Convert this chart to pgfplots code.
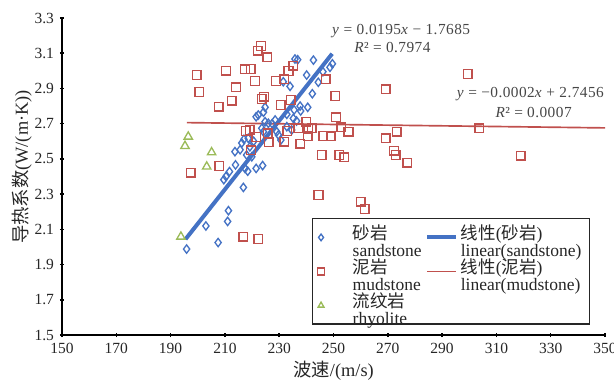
\documentclass[border=0pt]{standalone}
\usepackage{pgfplots}
\pgfplotsset{compat=1.18}
\usepackage{fontspec}
\setmainfont{Liberation Serif}
\newfontfamily\lat{Liberation Serif}
\newfontfamily\spaced[LetterSpace=3]{Liberation Serif}
\newfontfamily\cjk{Noto Sans CJK SC}
\newcommand\zh[1]{{\cjk #1}}
\newcommand\legtxt[2]{\renewcommand\arraystretch{0.97}\begin{tabular}{@{}l@{}}\lat#1\\\lat #2\end{tabular}}
\definecolor{sblue}{RGB}{68,114,196}
\definecolor{mred}{RGB}{192,80,77}
\definecolor{rgreen}{RGB}{155,187,89}
\definecolor{eqgray}{RGB}{70,70,70}
\begin{document}
\begin{tikzpicture}
\useasboundingbox (-37.2pt,-28.8pt) rectangle (331.2pt,201pt);
\begin{axis}[
  at={(0,0)}, anchor=south west,
  scale only axis, width=325.8pt, height=190.2pt,
  xmin=150, xmax=350, ymin=1.5, ymax=3.3,
  axis x line=bottom, axis y line=left,
  axis line style={-, line width=0.9pt, black},
  xtick={150,170,190,210,230,250,270,290,310,330,350},
  ytick={1.5,1.7,1.9,2.1,2.3,2.5,2.7,2.9,3.1,3.3},
  yticklabel style={/pgf/number format/.cd, fixed, fixed zerofill, precision=1},
  tick style={black, line width=0.9pt}, major tick length=2.6pt,
  tick label style={font=\fontsize{9.3}{9.5}\selectfont, text=black!85},
  /pgf/number format/assume math mode=true,
  every axis x label/.style={at={(axis description cs:0.5,0)}, yshift=-21.5pt, anchor=center},
  every axis y label/.style={at={(axis description cs:0,0.53)}, xshift=-24pt, rotate=90, anchor=center},
  label style={font=\fontsize{11}{11}\selectfont, text=black!85},
  xlabel={\zh{波速}/(m/s)},
  ylabel={\zh{导热系数}(W/(m·K))},
  legend columns=2,
  legend cell align=left,
  legend image post style={mark size=2pt},
  legend style={at={(axis cs:242.1,2.164)}, anchor=north west, draw=black!85, line width=0.8pt,
    fill=white, font=\fontsize{10.5}{10}\selectfont, text=black!85,
    nodes={inner ysep=0.6pt},
    /tikz/column 1/.style={column sep=15pt}, row sep=4pt, inner sep=3pt},
]
\addplot[only marks, mark=diamond, mark size=2.5pt, mark options={draw=sblue, line width=0.8pt}] coordinates {
(195.9,1.988) (207.5,2.025) (203.0,2.119) (211.0,2.145) (211.3,2.206) (216.8,2.338)
(209.6,2.382) (210.4,2.400) (211.7,2.428) (213.9,2.466) (217.4,2.446) (218.4,2.430)
(221.5,2.446) (223.9,2.462) (219.9,2.512) (215.6,2.552) (216.2,2.590) (217.0,2.611)
(218.6,2.617) (219.2,2.569) (220.6,2.600) (221.5,2.739) (222.3,2.749) (224.2,2.765)
(224.8,2.793) (224.8,2.711) (226.0,2.702) (223.6,2.674) (224.2,2.654) (227.4,2.700)
(228.5,2.721) (229.1,2.654) (229.7,2.636) (230.6,2.607) (232.8,2.683) (234.6,2.664)
(235.2,2.730) (236.4,2.715) (237.9,2.772) (237.7,2.800) (240.5,2.793) (242.2,2.870)
(234.0,2.912) (231.5,2.938) (240.1,2.976) (244.4,2.935) (246.1,2.995) (235.8,3.067)
(236.8,3.063) (242.6,3.061) (249.6,3.040) (248.7,3.020) (213.7,2.541) (218.0,2.522)
(235.5,2.778) (232.8,2.753)
};
\addlegendentry{\legtxt{\zh{砂岩}}{sandstone}}
\addplot[sblue, line width=2.4pt] coordinates {(195.5,2.044) (249.5,3.097)};
\addlegendentry{\legtxt{\zh{线性}(\zh{砂岩})}{linear(sandstone)}}
\addplot[only marks, mark=square, mark size=2.6pt, mark options={draw=mred, line width=0.9pt}] coordinates {
(223.3,3.141) (222.1,3.114) (225.6,3.077) (199.6,2.976) (210.4,3.001) (217.4,3.009)
(219.5,3.010) (200.6,2.880) (214.1,2.906) (221.1,2.942) (228.8,2.942) (231.9,2.952)
(235.2,3.029) (233.4,2.999) (247.1,2.952) (250.7,2.857) (224.4,2.853) (223.6,2.840)
(212.5,2.830) (207.7,2.796) (230.6,2.806) (234.3,2.834) (250.9,2.736) (239.9,2.711)
(217.7,2.658) (221.5,2.624) (225.8,2.645) (226.2,2.594) (233.0,2.658) (231.8,2.598)
(237.0,2.674) (240.7,2.670) (242.0,2.674) (240.5,2.628) (237.7,2.586) (246.2,2.630)
(249.0,2.628) (252.8,2.679) (255.5,2.654) (245.7,2.522) (252.1,2.522) (253.9,2.509)
(219.6,2.549) (207.9,2.460) (197.4,2.422) (244.5,2.295) (216.8,2.058) (222.3,2.045)
(260.0,2.257) (261.5,2.215) (269.2,2.895) (273.3,2.654) (269.2,2.617) (272.3,2.547)
(272.9,2.522) (277.2,2.478) (299.4,2.982) (303.7,2.674) (319.0,2.518) (219.2,2.664)
};
\addlegendentry{\legtxt{\zh{泥岩}}{mudstone}}
\addplot[mred, line width=1pt] coordinates {(196,2.706) (350,2.676)};
\addlegendentry{\legtxt{\zh{线性}(\zh{泥岩})}{linear(mudstone)}}
\addplot[only marks, mark=triangle, mark size=2.9pt, mark options={draw=rgreen, line width=0.8pt}] coordinates {
(196.5,2.626) (195.3,2.573) (205.1,2.537) (203.3,2.456) (193.8,2.058)
};
\addlegendentry{\legtxt{\zh{流纹岩}}{rhyolite}}
\node[font=\fontsize{9.2}{9.2}\spaced, text=eqgray] at (axis cs:274.9,3.226) {\textit{y} = 0.0195\textit{x} − 1.7685};
\node[font=\fontsize{9.2}{9.2}\spaced, text=eqgray] at (axis cs:271.7,3.130) {\textit{R}² = 0.7974};
\node[font=\fontsize{9.2}{9.2}\spaced, text=eqgray] at (axis cs:322.5,2.868) {\textit{y} = −0.0002\textit{x} + 2.7456};
\node[font=\fontsize{9.2}{9.2}\spaced, text=eqgray] at (axis cs:323.7,2.762) {\textit{R}² = 0.0007};
\end{axis}
\end{tikzpicture}
\end{document}
